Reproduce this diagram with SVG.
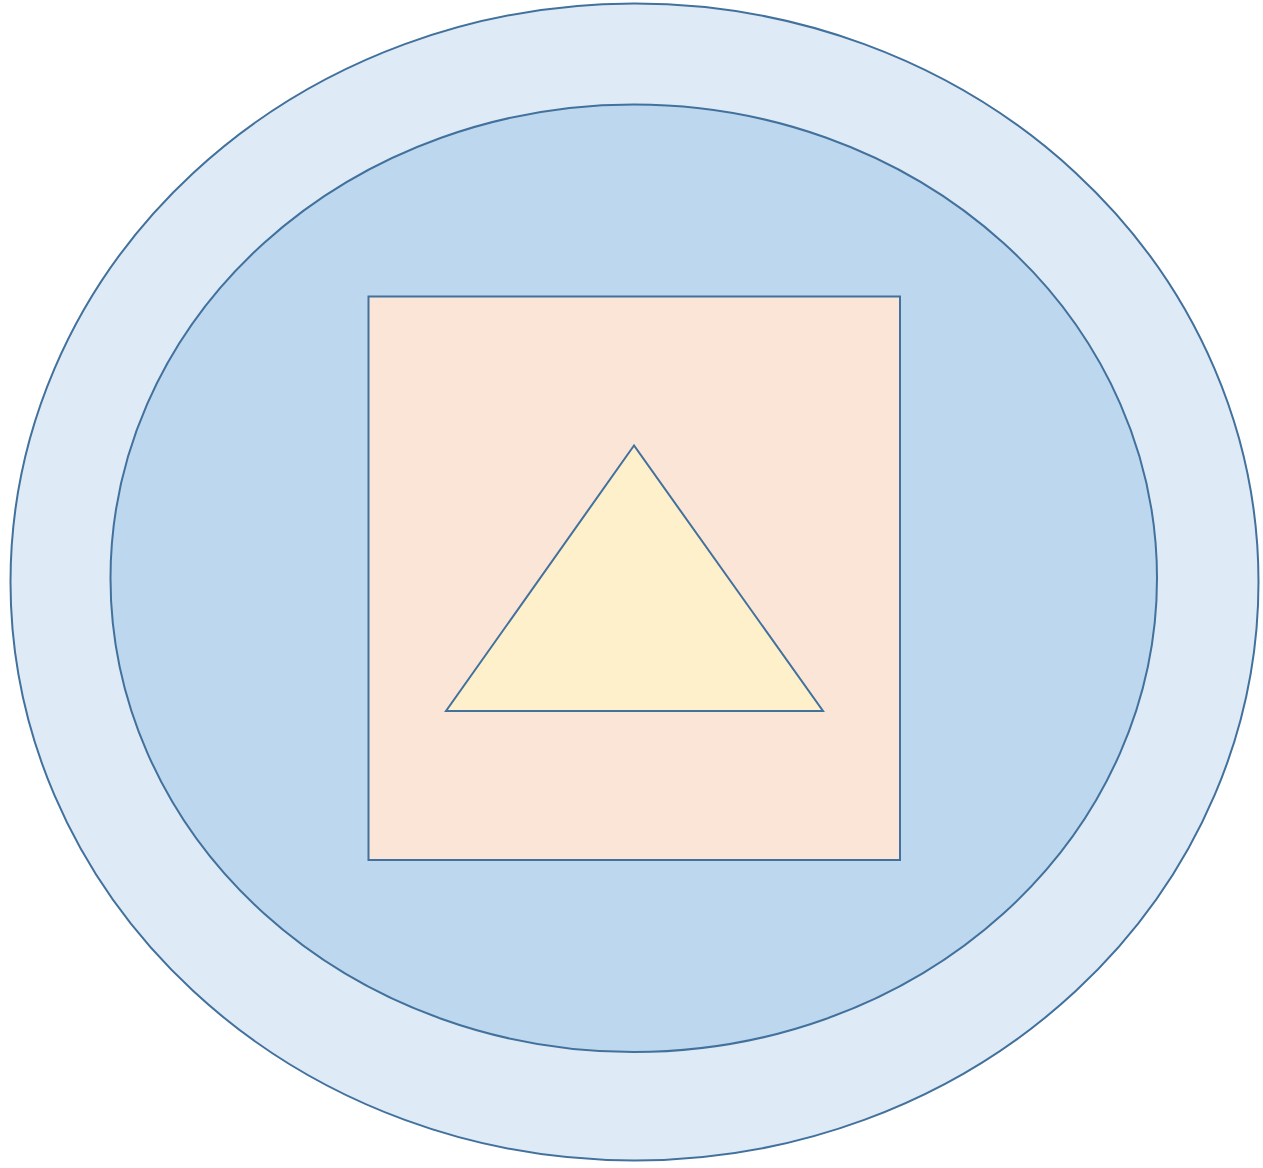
<svg xmlns="http://www.w3.org/2000/svg" width="1263" height="1168" viewBox="0 0 1263 1168">
<style>
.s{stroke:#41719c;stroke-width:2;}
</style>
<rect width="1263" height="1168" fill="#ffffff"/>
<g id="outer"><ellipse class="s" cx="634.5" cy="582" rx="624" ry="578.5" fill="#deeaf6"/></g>
<g id="inner"><ellipse class="s" cx="633.75" cy="578.25" rx="523.25" ry="473.75" fill="#bdd7ee"/></g>
<g id="square"><rect class="s" x="368.5" y="296.5" width="531.5" height="563.5" fill="#fae5d7"/></g>
<g id="triangle"><polygon class="s" points="634,445.5 446,711 823,711" fill="#fff0cc" stroke-linejoin="miter"/></g>
<g id="connectors"></g>
</svg>
